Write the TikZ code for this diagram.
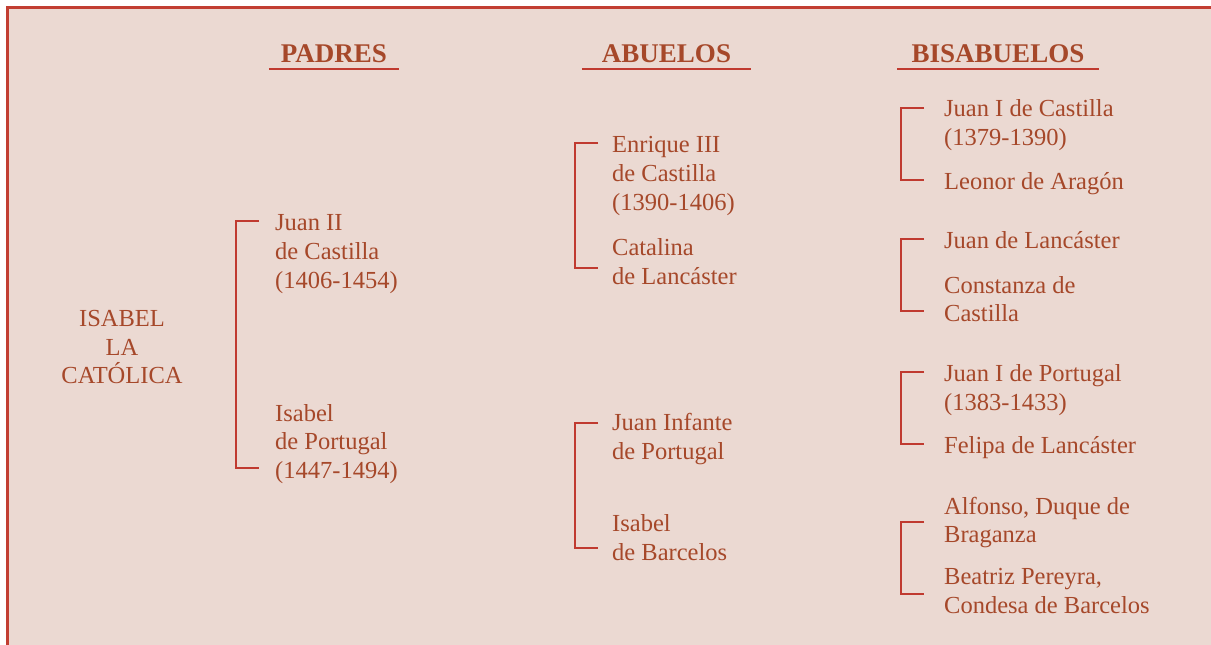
\documentclass[tikz,border=0pt]{standalone}
\usepackage{fontspec}
\setmainfont{Liberation Serif}
\definecolor{fondo}{RGB}{235,217,210}
\definecolor{borde}{RGB}{194,62,50}
\definecolor{texto}{RGB}{166,72,42}
\definecolor{linea}{RGB}{192,58,48}
\begin{document}
\begin{tikzpicture}[x=1pt,y=-1pt,line join=miter,line cap=butt]
			\tikzset{persona/.style={anchor=north west,inner sep=0pt,align=left,text=texto,font=\fontsize{24.5}{28.7}\selectfont},
				titulo/.style={inner xsep=0pt,inner ysep=0pt,text depth=7pt,anchor=base,text=texto,font=\fontsize{27}{30}\selectfont\bfseries},
				corchete/.style={draw=linea,line width=2.3pt},
				subrayado/.style={draw=linea,line width=1.5pt}}
			\useasboundingbox (0,0) rectangle (1211,645);
			\fill[white] (0,0) rectangle (1211,645);
			\fill[fondo] (7.3,7.3) rectangle (1230,660);
			\draw[borde,line width=2.8pt] (1230,7.3)--(7.3,7.3)--(7.3,660);
			% titulos
			\node[titulo,minimum width=130pt] (padres) at (334,62) {PADRES};
			\node[titulo,minimum width=169pt] (abuelos) at (666.5,62) {ABUELOS};
			\node[titulo,minimum width=201pt] (bisabuelos) at (998,62) {BISABUELOS};
			\foreach \t in {padres,abuelos,bisabuelos}
			\draw[subrayado] (\t.south west)--(\t.south east);
			% Isabel y padres
			\node[persona,anchor=north,align=center] (isabel) at (122,310) {ISABEL\\LA\\CATÓLICA};
			\node[persona] (juan2) at (275,214.5) {Juan II\\de Castilla\\(1406-1454)};
			\node[persona] (isabelp) at (275,404) {Isabel\\de Portugal\\(1447-1494)};
			% abuelos
			\node[persona] (enrique) at (612,136.5) {Enrique III\\de Castilla\\(1390-1406)};
			\node[persona] (catalina) at (612,238.5) {Catalina\\de Lancáster};
			\node[persona] (juaninf) at (612,413.5) {Juan Infante\\de Portugal};
			\node[persona] (isabelb) at (612,514.5) {Isabel\\de Barcelos};
			% bisabuelos
			\node[persona] (juan1c) at (944,99.5) {Juan I de Castilla\\(1379-1390)};
			\node[persona] (leonor) at (944,172.5) {Leonor de Aragón};
			\node[persona] (juanlan) at (944,231.5) {Juan de Lancáster};
			\node[persona] (constanza) at (944,276) {Constanza de\\Castilla};
			\node[persona] (juan1p) at (944,364.3) {Juan I de Portugal\\(1383-1433)};
			\node[persona] (felipa) at (944,436.7) {Felipa de Lancáster};
			\node[persona] (alfonso) at (944,496.6) {Alfonso, Duque de\\Braganza};
			\node[persona] (beatriz) at (944,568.3) {Beatriz Pereyra,\\Condesa de Barcelos};
			% corchetes
			\coordinate (padA) at (259,220.7);
			\coordinate (padB) at (259,468.3);
			\draw[corchete] (padA)--++(-23,0)|-(padB);
			\foreach \n/\a/\b in {1/143/268,2/423/548}{
				\coordinate (abu\n a) at (598,\a);
				\coordinate (abu\n b) at (598,\b);
				\draw[corchete] (abu\n a)--++(-23,0)|-(abu\n b);
			}
			\foreach \n/\a/\b in {1/108.3/180,2/239/310.7,3/372.3/444.3,4/522.3/594}{
				\coordinate (bis\n a) at (924,\a);
				\coordinate (bis\n b) at (924,\b);
				\draw[corchete] (bis\n a)--++(-23,0)|-(bis\n b);
			}
\end{tikzpicture}
\end{document}
